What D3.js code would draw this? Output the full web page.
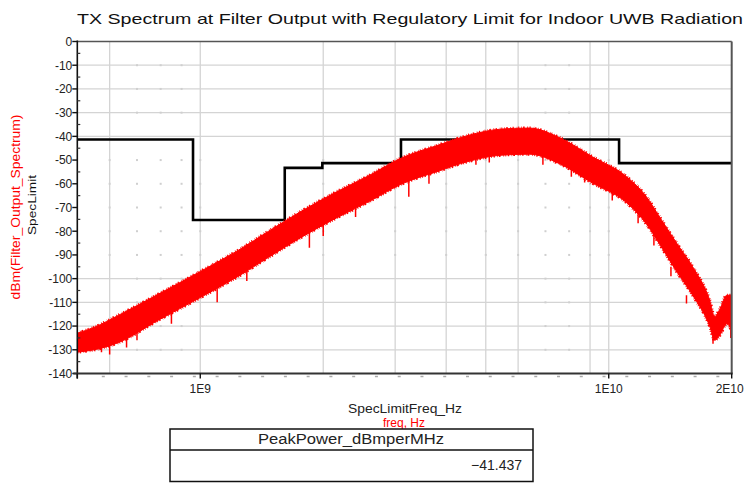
<!DOCTYPE html>
<html><head><meta charset="utf-8">
<script src="https://cdn.jsdelivr.net/npm/d3@7"></script>
<style>body{margin:0;background:#fff}svg{display:block}text{font-family:"Liberation Sans",Arial,sans-serif}</style>
</head><body><svg id="c" width="750" height="483"></svg>
<script>
// ---------- data ----------
const title = "TX Spectrum at Filter Output with Regulatory Limit for Indoor UWB Radiation";
const yTickValues = [0,-10,-20,-30,-40,-50,-60,-70,-80,-90,-100,-110,-120,-130,-140];
const xTickValues = [1e9, 1e10, 2e10];
const xTickLabels = ["1E9", "1E10", "2E10"];
const xGridValues = [6e8, 1e9, 2e9, 3e9, 4e9, 5e9, 6e9, 9e9, 1e10];
const yGridValues = [-10,-20,-30,-40,-100,-110,-120,-130];
const xDotValues = [7e8, 8e8, 9e8, 7e9, 8e9];
const yDotValues = [-10,-20,-30,-50,-60,-70,-80,-90,-100,-110,-120,-130];

// FCC indoor UWB mask (step after)
const specFreqHz = [5e8, 9.6e8, 1.61e9, 1.99e9, 3.1e9, 1.06e10, 2e10];
const specLimitDb = [-41.3, -75.3, -53.3, -51.3, -41.3, -51.3, -51.3];

const spectrumFreqGHz = [0.5, 0.55, 0.63, 0.79, 1.0, 1.24, 1.47, 1.77, 2.15, 2.59, 3.12, 3.78, 4.55, 5.4, 6.39, 7.57, 9.12, 11.06, 12.37, 13.32, 14.66, 16.05, 17.66, 18.17, 18.69, 19.45, 20.0];
const spectrumUpperDb = [-123, -120.5, -115.5, -106.5, -97, -88, -80, -71.5, -63.5, -56.5, -49, -44, -39.5, -37, -36.5, -40.5, -48.6, -57, -65.5, -74, -85, -95, -109, -116, -113, -107, -107];
const spectrumLowerDb = [-131, -130, -127, -117.5, -108, -99, -91, -82.5, -74.5, -67.5, -60, -55, -50.5, -48, -47.5, -51.5, -59.7, -68, -77, -85.5, -97, -107, -120, -126, -124, -119, -122];

// downward noise spikes of the trace
const spikeFreqGHz = [0.5, 0.573, 0.6, 0.66, 0.7, 0.85, 1.1, 1.3, 1.85, 2.0, 2.4, 3.24, 3.63, 4.73, 5.1, 6.9, 8.1, 8.73, 10.2, 11.8, 12.9, 14.2, 15.5, 18.0, 19.9];
const spikeTopDb = [-126, -126, -125, -122, -119, -113, -104, -96, -80, -77, -70, -58, -54, -48, -46, -47, -50, -56, -62, -68, -80, -95, -107, -124, -118];
const spikeBottomDb = [-140, -131, -132, -129, -126, -119, -110, -101, -87, -82, -74, -65.5, -60, -52, -51, -52, -57, -59.5, -67, -76.6, -86, -99, -110.5, -127.5, -125];

const xAxisLabel = "SpecLimitFreq_Hz";
const xAxisLabel2 = "freq, Hz";
const yAxisLabelRed = "dBm(Filter_Output_Spectrum)";
const yAxisLabelBlack = "SpecLimit";
const tableHeader = "PeakPower_dBmperMHz";
const tableValue = -41.437;

// ---------- drawing ----------
const svg = d3.select("#c");
const L = 77.3, R = 731.7, T = 41.5, B = 373.5;
const x = d3.scaleLog().domain([5e8, 2e10]).range([L, R]);
const y = d3.scaleLinear().domain([-140, 0]).range([B, T]);

svg.append("defs").append("clipPath").attr("id", "clip")
  .append("rect").attr("x", L).attr("y", T).attr("width", R - L).attr("height", B - T);

// title
svg.append("text").attr("x", 410).attr("y", 24).attr("text-anchor", "middle")
  .attr("font-size", 15).attr("fill", "#111")
  .attr("textLength", 666).attr("lengthAdjust", "spacingAndGlyphs").text(title);

// grid
const grid = svg.append("g");
grid.selectAll("line.gx").data(xGridValues).join("line")
  .attr("x1", d => x(d)).attr("x2", d => x(d)).attr("y1", T).attr("y2", B)
  .attr("stroke", "#d4d4d4").attr("stroke-width", 1.3);
grid.selectAll("line.gy").data(yGridValues).join("line")
  .attr("y1", d => y(d)).attr("y2", d => y(d)).attr("x1", L).attr("x2", R)
  .attr("stroke", "#d4d4d4").attr("stroke-width", 1.3);
const dots = [];
xDotValues.forEach(fx => yDotValues.forEach(v => dots.push([fx, v])));
xGridValues.forEach(fx => [-50,-60,-70,-80,-90].forEach(v => dots.push([fx, v])));
grid.selectAll("rect.dot").data(dots).join("rect")
  .attr("x", d => x(d[0]) - 1).attr("y", d => y(d[1]) - 1).attr("width", 2).attr("height", 2)
  .attr("fill", "#cfcfcf");

const plot = svg.append("g").attr("clip-path", "url(#clip)");

// spec limit (black)
const spec = specFreqHz.map((f, i) => [f, specLimitDb[i]]);
plot.append("path").datum(spec)
  .attr("d", d3.line().x(d => x(d[0])).y(d => y(d[1])).curve(d3.curveStepAfter))
  .attr("fill", "none").attr("stroke", "#000").attr("stroke-width", 2.6);

// spectrum (red)
const pts = spectrumFreqGHz.map((f, i) => ({f: f * 1e9, u: spectrumUpperDb[i], l: spectrumLowerDb[i]}));
const area = d3.area().x(d => x(d.f)).y0(d => y(d.l)).y1(d => y(d.u)).curve(d3.curveMonotoneX);
plot.append("path").datum(pts).attr("d", area)
  .attr("fill", "#ff0000").attr("stroke", "#ff0000").attr("stroke-width", 1);
// fuzzy (noisy-looking) edges
const edgeU = d3.line().x(d => x(d.f)).y(d => y(d.u)).curve(d3.curveMonotoneX);
const edgeL = d3.line().x(d => x(d.f)).y(d => y(d.l)).curve(d3.curveMonotoneX);
[[edgeU, "1 2 0.6 1.2 1.6 2.6 0.8 1.4 1.2 3 0.5 1"], [edgeL, "0.8 1.6 1.4 2.4 0.6 1 1.8 2.8 0.7 1.3"]].forEach(([gen, dash]) => {
  plot.append("path").datum(pts).attr("d", gen).attr("fill", "none")
    .attr("stroke", "#ff0000").attr("stroke-width", 3.2).attr("stroke-dasharray", dash);
});
plot.selectAll("line.spike").data(spikeFreqGHz).join("line")
  .attr("x1", d => x(d * 1e9)).attr("x2", d => x(d * 1e9))
  .attr("y1", (d, i) => y(spikeTopDb[i])).attr("y2", (d, i) => y(spikeBottomDb[i]))
  .attr("stroke", "#ff0000").attr("stroke-width", 1.5);

// frame
svg.append("line").attr("x1", L).attr("x2", R).attr("y1", T).attr("y2", T).attr("stroke", "#555").attr("stroke-width", 1.6);
svg.append("line").attr("x1", R).attr("x2", R).attr("y1", T).attr("y2", B).attr("stroke", "#555").attr("stroke-width", 2);

// y axis
const yAxis = svg.append("g");
yAxis.append("line").attr("x1", L).attr("x2", L).attr("y1", T - 1).attr("y2", B + 5).attr("stroke", "#111").attr("stroke-width", 1.6);
yAxis.selectAll("line.maj").data(yTickValues).join("line")
  .attr("x1", L - 5).attr("x2", L).attr("y1", d => y(d)).attr("y2", d => y(d)).attr("stroke", "#111").attr("stroke-width", 1.4);
yAxis.selectAll("line.min").data(d3.range(-135, 0, 10)).join("line")
  .attr("x1", L).attr("x2", L + 3).attr("y1", d => y(d)).attr("y2", d => y(d)).attr("stroke", "#333").attr("stroke-width", 1.2);
yAxis.selectAll("text").data(yTickValues).join("text")
  .attr("x", L - 5).attr("y", d => y(d)).attr("dy", "0.36em").attr("text-anchor", "end")
  .attr("font-size", 12).attr("fill", "#222").text(d => d);

// x axis
const xAxis = svg.append("g");
xAxis.append("line").attr("x1", L - 4).attr("x2", R + 1).attr("y1", B).attr("y2", B).attr("stroke", "#333").attr("stroke-width", 1.8);
const logStep = (Math.log10(x.invert(513)) - Math.log10(x.invert(103.3))) / 18;
const minorTicks = d3.range(0, 30).map(k => Math.pow(10, Math.log10(x.invert(103.3)) + k * logStep)).filter(v => x(v) < R - 3);
xAxis.selectAll("line.min").data(minorTicks).join("line")
  .attr("x1", d => x(d) - 1.5).attr("x2", d => x(d) + 1.5).attr("y1", B + 3).attr("y2", B + 3)
  .attr("stroke", "#aaa").attr("stroke-width", 1.5);
xAxis.selectAll("line.maj").data([5e8].concat(xTickValues)).join("line")
  .attr("x1", d => x(d)).attr("x2", d => x(d)).attr("y1", B).attr("y2", B + 5)
  .attr("stroke", "#111").attr("stroke-width", 1.4);
xAxis.selectAll("text").data(xTickValues).join("text")
  .attr("x", (d, i) => i === 2 ? x(d) - 2 : x(d)).attr("y", 393).attr("text-anchor", "middle")
  .attr("font-size", 12).attr("fill", "#222").text((d, i) => xTickLabels[i]);

// axis titles
svg.append("text").attr("x", 405).attr("y", 413).attr("text-anchor", "middle")
  .attr("font-size", 12).attr("fill", "#222").attr("textLength", 114).attr("lengthAdjust", "spacingAndGlyphs").text(xAxisLabel);
svg.append("text").attr("x", 404).attr("y", 427).attr("text-anchor", "middle")
  .attr("font-size", 12).attr("fill", "#ff0000").text(xAxisLabel2);
svg.append("text").attr("transform", "translate(20,207) rotate(-90)").attr("text-anchor", "middle")
  .attr("font-size", 13).attr("fill", "#ff0000").attr("textLength", 185).attr("lengthAdjust", "spacingAndGlyphs").text(yAxisLabelRed);
svg.append("text").attr("transform", "translate(36,205) rotate(-90)").attr("text-anchor", "middle")
  .attr("font-size", 11).attr("fill", "#111").attr("textLength", 60).attr("lengthAdjust", "spacingAndGlyphs").text(yAxisLabelBlack);

// table
const tb = svg.append("g");
tb.append("rect").attr("x", 170).attr("y", 429).attr("width", 363).attr("height", 52.5)
  .attr("fill", "#fff").attr("stroke", "#111").attr("stroke-width", 1.5);
tb.append("line").attr("x1", 170).attr("x2", 533).attr("y1", 450).attr("y2", 450).attr("stroke", "#111").attr("stroke-width", 1.5);
tb.append("text").attr("x", 351).attr("y", 444).attr("text-anchor", "middle").attr("font-size", 14).attr("fill", "#222")
  .attr("textLength", 186).attr("lengthAdjust", "spacingAndGlyphs").text(tableHeader);
tb.append("text").attr("x", 522).attr("y", 470).attr("text-anchor", "end").attr("font-size", 14).attr("fill", "#222")
  .text(d3.format(".3f")(tableValue));
</script></body></html>
